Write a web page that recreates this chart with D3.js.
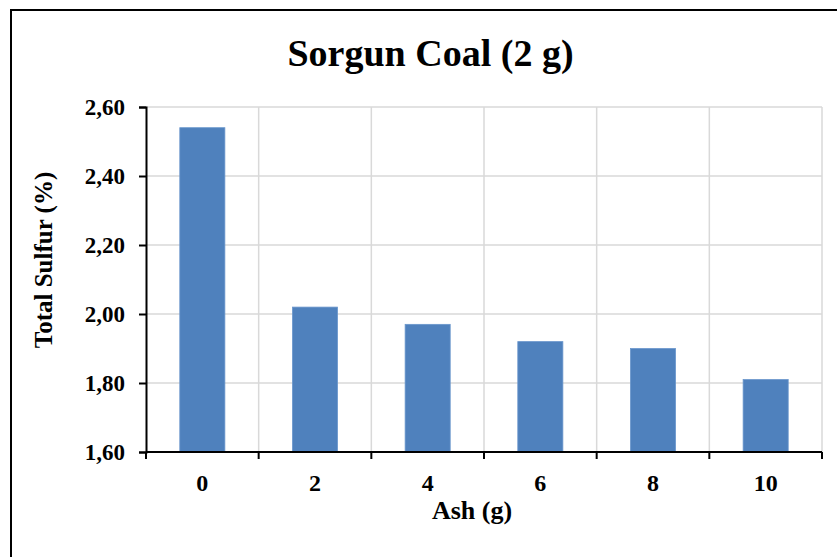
<!DOCTYPE html>
<html><head><meta charset="utf-8">
<script src="https://cdn.jsdelivr.net/npm/d3@7"></script>
<style>body{margin:0;background:#fff}svg{display:block}text{font-family:"Liberation Serif","Times New Roman",serif;font-weight:bold;fill:#000}</style>
</head><body>
<script>
const categories = ["0","2","4","6","8","10"];
const values = [2.54, 2.02, 1.97, 1.92, 1.90, 1.81];
const yTicks = [1.6, 1.8, 2.0, 2.2, 2.4, 2.6];
const title = "Sorgun Coal (2 g)";
const xTitle = "Ash (g)";
const yTitle = "Total Sulfur (%)";

const W = 837, H = 557;
const m = {left:146, right:822, top:107, bottom:452};
const svg = d3.select("body").append("svg").attr("width", W).attr("height", H);

svg.append("rect").attr("x",11).attr("y",10).attr("width",900).attr("height",600)
  .attr("fill","#fff").attr("stroke","#000").attr("stroke-width",2);

const x = d3.scaleBand().domain(categories).range([m.left, m.right]).paddingInner(0.6).paddingOuter(0.3);
const y = d3.scaleLinear().domain([1.6, 2.6]).range([m.bottom, m.top]);
const step = x.step();
const bounds = d3.range(categories.length + 1).map(i => m.left + i * step);

// gridlines
svg.append("g").selectAll("line").data(yTicks).join("line")
  .attr("x1", m.left).attr("x2", m.right).attr("y1", d => y(d)).attr("y2", d => y(d))
  .attr("stroke", "#D9D9D9").attr("stroke-width", 1.5);
svg.append("g").selectAll("line").data(bounds.slice(1)).join("line")
  .attr("x1", d => d).attr("x2", d => d).attr("y1", m.top).attr("y2", m.bottom)
  .attr("stroke", "#D9D9D9").attr("stroke-width", 1.5);

// bars
svg.append("g").selectAll("rect").data(values).join("rect")
  .attr("x", (d,i) => x(categories[i])).attr("width", x.bandwidth())
  .attr("y", d => y(d)).attr("height", d => y(1.6) - y(d))
  .attr("fill", "#4F81BD").attr("stroke", "#6A96CC").attr("stroke-width", 0.8);

// y axis
const yAxis = d3.axisLeft(y).tickValues(yTicks).tickSize(7).tickPadding(14)
  .tickFormat(d => d3.format(".2f")(d).replace(".", ","));
const gy = svg.append("g").attr("transform", `translate(${m.left},0)`).call(yAxis);
gy.select(".domain").attr("stroke", "#000").attr("stroke-width", 2);
gy.selectAll(".tick line").attr("stroke", "#000").attr("stroke-width", 2);
gy.selectAll(".tick text").attr("font-size", 23).attr("font-family", "Liberation Serif").attr("font-weight","bold").attr("fill","#000");

// x axis
const xAxis = d3.axisBottom(x).tickSize(0).tickPadding(22);
const gx = svg.append("g").attr("transform", `translate(0,${m.bottom})`).call(xAxis);
gx.select(".domain").attr("stroke", "#000").attr("stroke-width", 2).attr("d", `M${m.left},0H${m.right}`);
gx.selectAll(".tick text").attr("font-size", 24).attr("font-family", "Liberation Serif").attr("font-weight","bold").attr("fill","#000");
gx.selectAll(".bound").data(bounds).join("line").attr("class","bound")
  .attr("x1", d => d).attr("x2", d => d).attr("y1", 0).attr("y2", 7)
  .attr("stroke", "#000").attr("stroke-width", 2);

// titles
svg.append("text").attr("x", 430.5).attr("y", 66).attr("text-anchor", "middle")
  .attr("font-size", 38).text(title);
svg.append("text").attr("x", 472).attr("y", 519).attr("text-anchor", "middle")
  .attr("font-size", 26).text(xTitle);
svg.append("text").attr("transform", "translate(52,260) rotate(-90)").attr("text-anchor", "middle")
  .attr("font-size", 25).text(yTitle);
</script>
</body></html>
